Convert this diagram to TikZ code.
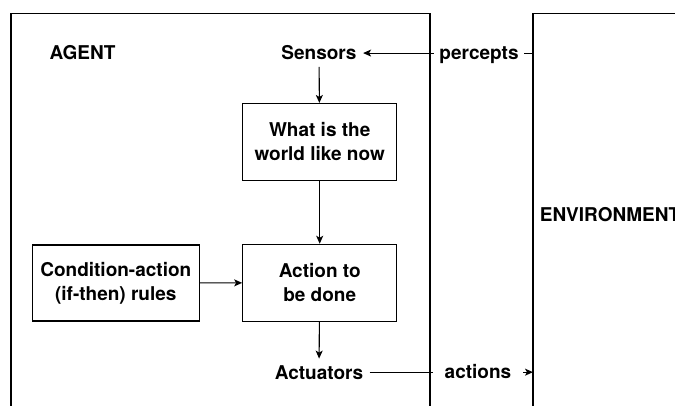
\documentclass[tikz,border=0pt]{standalone}
\usepackage{fontspec}
\setmainfont{TeX Gyre Heros}
\usetikzlibrary{arrows.meta}

\begin{document}
\begin{tikzpicture}[x=1pt, y=-1pt, line width=1.1pt,
  >={Stealth[length=8pt,width=7pt,inset=2pt]},
  font=\fontsize{19}{24}\selectfont\bfseries,
  box/.style={draw, align=center, minimum width=154pt, minimum height=77pt, inner sep=0pt},
  word/.style={inner sep=6pt, anchor=base},
  lab/.style={fill=white, minimum width=90pt, inner sep=0pt, anchor=base}]
\clip (0,0) rectangle (675,406);

\node (g) [word] at (82.5,60) {AGENT};
\node (s) [word] at (319,60) {Sensors};
\node (w) [box] at (319.7,142) {What is the\\world like now};
\node (c) [box, minimum width=167pt, minimum height=76pt] at (115.8,283) {Condition-action\\(if-then) rules};
\node (d) [box] at (319.7,282.8) {Action to\\be done};
\node (t) [word] at (319,379) {Actuators};
\node (v) [word, anchor=base west, inner sep=0pt] at (539.3,221.7) {ENVIRONMENT};
\coordinate (e) at (533,0);

\draw [->](s) -- (w);
\draw [->](w) -- (d);
\draw [->](c) -- (d);
\draw [->](d) -- (t);
\draw [->](s -| e) -- (s);
\draw [->](t) -- (t -| e);

\node (p) [lab] at (479,59.5) {percepts};
\node (q) [lab] at (478,378) {actions};

% agent and environment borders
\draw (11,420) -- (11,13.3) -- (430,13.3) -- (430,420);
\draw (533,420) -- (533,13.3) -- (690,13.3);
\end{tikzpicture}
\end{document}
